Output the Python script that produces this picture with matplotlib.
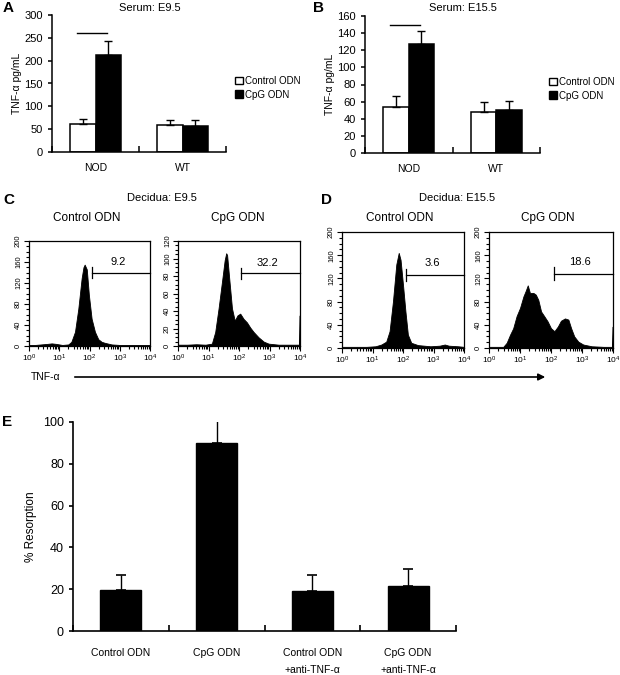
import numpy as np
import matplotlib
matplotlib.use('Agg')
import matplotlib.pyplot as plt
from matplotlib.patches import Patch
from matplotlib.ticker import AutoMinorLocator, LogLocator, NullFormatter

plt.rcParams['font.family'] = ['Liberation Sans', 'DejaVu Sans']
plt.rcParams['mathtext.default'] = 'regular'

# ---- data -------------------------------------------------------------
groups = ['NOD', 'WT']
series = ['Control ODN', 'CpG ODN']
serum_e95_ctrl = [61, 60]
serum_e95_ctrl_err = [11, 9]
serum_e95_cpg = [213, 57]
serum_e95_cpg_err = [31, 13]
serum_e155_ctrl = [54, 48]
serum_e155_ctrl_err = [13, 12]
serum_e155_cpg = [127, 50]
serum_e155_cpg_err = [16, 11]

# flow histograms: log10 channel position, event count
hist_c_ctrl_x = [0.0, 0.2, 0.4, 0.6, 0.75, 0.9, 1.1, 1.3, 1.4, 1.52, 1.63, 1.74, 1.8, 1.84,
                 1.91, 1.98, 2.07, 2.18, 2.29, 2.4, 2.51, 2.73, 3.0, 3.4, 3.8, 4.0]
hist_c_ctrl_y = [2, 2, 3, 4, 5, 4, 2, 3, 8, 27, 71, 129, 150, 155,
                 146, 97, 52, 27, 13, 8, 6, 3, 2, 2, 2, 2]
hist_c_cpg_x = [0.0, 0.3, 0.6, 0.9, 1.11, 1.22, 1.33, 1.44, 1.53, 1.58, 1.61, 1.68, 1.77,
                1.86, 1.95, 2.04, 2.15, 2.26, 2.37, 2.48, 2.64, 2.81, 2.97, 3.3, 3.7, 3.97, 3.99]
hist_c_cpg_y = [1.5, 1.5, 2, 1.5, 2.7, 16, 43, 73, 98, 106, 104, 77, 43,
                29, 35, 37, 31, 27, 21, 16, 10, 5, 2.7, 1.5, 1.5, 1.5, 35]
hist_d_ctrl_x = [0.0, 0.4, 0.8, 1.1, 1.29, 1.45, 1.56, 1.67, 1.78, 1.86, 1.92, 2.0, 2.08,
                 2.16, 2.27, 2.49, 2.9, 3.2, 3.37, 3.5, 3.8, 4.0]
hist_d_ctrl_y = [2, 2, 2, 3, 6, 11, 29, 80, 144, 164, 152, 109, 63,
                 23, 9, 5, 3, 4, 6, 4, 3, 2]
hist_d_cpg_x = [0.0, 0.3, 0.46, 0.57, 0.68, 0.78, 0.89, 1.0, 1.11, 1.18, 1.25, 1.32, 1.43,
                1.51, 1.59, 1.68, 1.78, 1.89, 2.0, 2.11, 2.22, 2.32, 2.45, 2.56, 2.65,
                2.75, 2.88, 3.04, 3.31, 3.7, 3.97, 3.99]
hist_d_cpg_y = [2, 2, 2, 9, 23, 34, 55, 69, 89, 98, 108, 95, 95,
                92, 83, 63, 55, 46, 34, 29, 37, 47, 51, 49, 34,
                20, 11, 6, 3, 2, 2, 37]
gate_start = [2.07, 2.07, 2.09, 2.09]
gate_level = [140, 83, 126, 128]
gate_pct = ['9.2', '32.2', '3.6', '18.6']

resorption_labels = ['Control ODN', 'CpG ODN', 'Control ODN\n+anti-TNF-α', 'CpG ODN\n+anti-TNF-α']
resorption = [19.6, 90, 19.1, 21.5]
resorption_err = [7.2, 11.4, 7.7, 8.2]

W, H = 620, 675
fig = plt.figure(figsize=(6.2, 6.75), dpi=100)


def box(l, r, t, b):
    return fig.add_axes([l / W, 1 - b / H, (r - l) / W, (b - t) / H])


def ftext(x, y, s, **kw):
    fig.text(x / W, 1 - y / H, s, ha='center', va='center', **kw)


def serum_panel(ax, ctrl, ctrl_err, cpg, cpg_err, ymax, step, sig_y):
    x = np.arange(len(groups))
    w = 0.29
    ax.bar(x - w / 2, ctrl, w, color='white', edgecolor='black', linewidth=1.1)
    ax.bar(x + w / 2, cpg, w, color='black', edgecolor='black', linewidth=1.1)
    ax.errorbar(x - w / 2, ctrl, yerr=[np.zeros(len(x)), ctrl_err], fmt='none',
                ecolor='black', elinewidth=1, capsize=3, capthick=1)
    ax.errorbar(x + w / 2, cpg, yerr=[np.zeros(len(x)), cpg_err], fmt='none',
                ecolor='black', elinewidth=1, capsize=3, capthick=1)
    ax.plot([x[0] - 0.75 * w, x[0] + 0.45 * w], [sig_y, sig_y], color='black', lw=1)
    ax.set_xlim(-0.5, len(groups) - 0.5)
    ax.set_ylim(0, ymax)
    ax.set_yticks(np.arange(0, ymax + 1, step))
    ax.set_xticks(x)
    ax.set_xticklabels(groups, fontsize=7.5)
    ax.set_xticks(np.arange(-0.5, len(groups), 1.0), minor=True)
    ax.tick_params(axis='x', which='major', length=0, pad=8)
    ax.tick_params(axis='x', which='minor', direction='in', length=4, width=1.1)
    ax.tick_params(axis='y', direction='out', length=3, width=1.1, labelsize=8)
    for s in ['top', 'right']:
        ax.spines[s].set_visible(False)
    for s in ['left', 'bottom']:
        ax.spines[s].set_linewidth(1.1)
    ax.set_ylabel('TNF-α pg/mL', fontsize=7.5, labelpad=2)
    handles = [Patch(facecolor='white', edgecolor='black'), Patch(facecolor='black', edgecolor='black')]
    ax.legend(handles, series, loc='center left', bbox_to_anchor=(1.0, 0.47), frameon=False,
              fontsize=7, handlelength=0.8, handleheight=0.8, handletextpad=0.3, labelspacing=0.4)


ax_a = box(52, 226, 15, 152)
serum_panel(ax_a, serum_e95_ctrl, serum_e95_ctrl_err, serum_e95_cpg, serum_e95_cpg_err, 300, 50, 260)
ax_b = box(365, 540, 16, 153)
serum_panel(ax_b, serum_e155_ctrl, serum_e155_ctrl_err, serum_e155_cpg, serum_e155_cpg_err, 160, 20, 150)

ftext(8, 8, 'A', fontsize=11, fontweight='bold')
ftext(150, 8, 'Serum: E9.5', fontsize=8)
ftext(319, 8, 'B', fontsize=11, fontweight='bold')
ftext(463, 8, 'Serum: E15.5', fontsize=8)


def flow_panel(ax, hx, hy, ymax, ystep, i):
    ax.fill_between(10 ** np.array(hx), hy, 0, color='black', linewidth=0.6, edgecolor='black')
    ax.set_xscale('log')
    ax.set_xlim(1, 1e4)
    ax.set_ylim(0, ymax)
    ax.set_yticks(np.arange(0, ymax + 1, ystep))
    ax.yaxis.set_minor_locator(AutoMinorLocator(4))
    ax.xaxis.set_major_locator(LogLocator(base=10, numticks=10))
    ax.xaxis.set_minor_locator(LogLocator(base=10, subs=np.arange(2, 10), numticks=10))
    ax.xaxis.set_minor_formatter(NullFormatter())
    ax.tick_params(which='both', direction='out', width=0.8)
    ax.tick_params(which='major', length=3.5, labelsize=6, pad=1.5)
    ax.tick_params(which='minor', length=2)
    for lab in ax.get_yticklabels():
        lab.set_rotation(90)
        lab.set_va('center')
        lab.set_fontsize(5.5)
    for s in ax.spines.values():
        s.set_linewidth(0.9)
    g0 = 10 ** gate_start[i]
    lv = gate_level[i]
    ax.plot([g0, 1e4], [lv, lv], color='black', lw=0.9, clip_on=False)
    ax.plot([g0, g0], [lv - 0.055 * ymax, lv + 0.055 * ymax], color='black', lw=0.9)
    ax.text(10 ** ((gate_start[i] + 4) / 2 - 0.1), lv + 0.1 * ymax, gate_pct[i],
            ha='center', va='center', fontsize=8)


flow_panel(box(29, 150, 241, 346), hist_c_ctrl_x, hist_c_ctrl_y, 200, 40, 0)
flow_panel(box(178, 300, 241, 346), hist_c_cpg_x, hist_c_cpg_y, 120, 20, 1)
flow_panel(box(342, 464, 232, 348), hist_d_ctrl_x, hist_d_ctrl_y, 200, 40, 2)
flow_panel(box(489, 613, 232, 348), hist_d_cpg_x, hist_d_cpg_y, 200, 40, 3)

ftext(9, 200, 'C', fontsize=11, fontweight='bold')
ftext(162, 198, 'Decidua: E9.5', fontsize=8)
ftext(87, 218, 'Control ODN', fontsize=8.5)
ftext(238, 218, 'CpG ODN', fontsize=8.5)
ftext(326, 200, 'D', fontsize=11, fontweight='bold')
ftext(457, 198, 'Decidua: E15.5', fontsize=8)
ftext(400, 218, 'Control ODN', fontsize=8.5)
ftext(548, 218, 'CpG ODN', fontsize=8.5)

ftext(46, 377, 'TNF-α', fontsize=7.5)
fig.add_artist(matplotlib.patches.FancyArrowPatch(
    (72 / W, 1 - 377 / H), (548 / W, 1 - 377 / H), transform=fig.transFigure,
    arrowstyle='-|>', mutation_scale=10, color='black', lw=1.2))

# ---- panel E ----------------------------------------------------------
ax_e = box(73, 456, 422, 631)
xe = np.arange(len(resorption))
ax_e.bar(xe, resorption, 0.43, color='black', edgecolor='black')
ax_e.errorbar(xe, resorption, yerr=[np.zeros(len(xe)), resorption_err], fmt='none',
              ecolor='black', elinewidth=1, capsize=3.5, capthick=1.2)
ax_e.set_xlim(-0.5, len(resorption) - 0.5)
ax_e.set_ylim(0, 100)
ax_e.set_yticks(np.arange(0, 101, 20))
ax_e.set_xticks(xe)
ax_e.set_xticklabels(resorption_labels, fontsize=7.5, linespacing=1.9, va='top')
ax_e.set_xticks(np.arange(-0.5, len(resorption), 1.0), minor=True)
ax_e.tick_params(axis='x', which='major', length=0, pad=12)
ax_e.tick_params(axis='x', which='minor', direction='in', length=4, width=1.2)
ax_e.tick_params(axis='y', direction='out', length=3, width=1.2, labelsize=9)
for s in ['top', 'right']:
    ax_e.spines[s].set_visible(False)
for s in ['left', 'bottom']:
    ax_e.spines[s].set_linewidth(1.2)
ax_e.set_ylabel('% Resorption', fontsize=8.5, labelpad=4)
ftext(7, 422, 'E', fontsize=11, fontweight='bold')

fig.savefig('out.png', dpi=100)
